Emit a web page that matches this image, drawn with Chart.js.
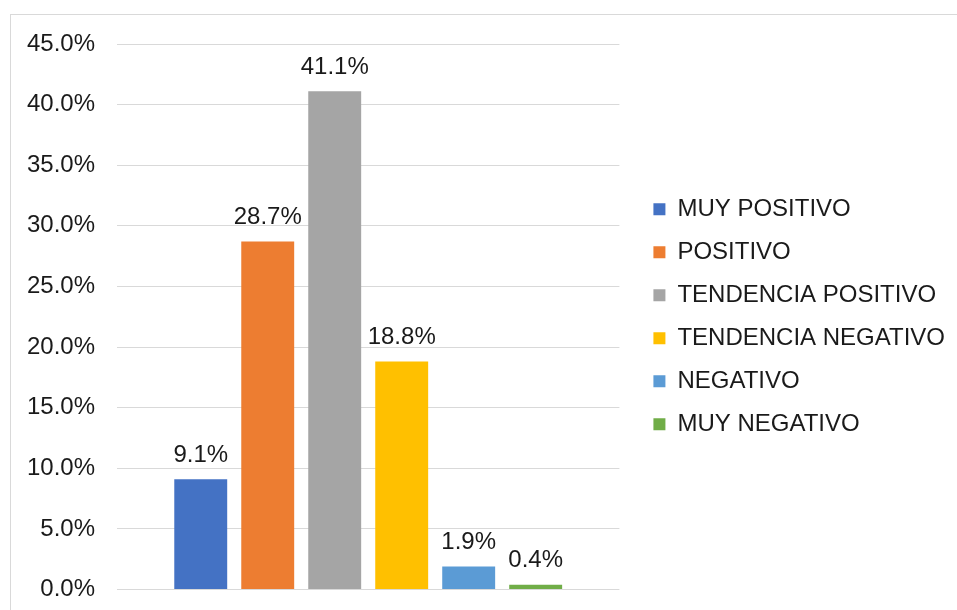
<!DOCTYPE html>
<html>
<head>
<meta charset="utf-8">
<script src="https://cdn.jsdelivr.net/npm/chart.js@4/dist/chart.umd.min.js"></script>
<style>
  html, body { margin: 0; padding: 0; background: #fff; }
  #wrap { width: 957px; height: 610px; }
</style>
</head>
<body>
<div id="wrap"><canvas id="chart"></canvas></div>
<script>
const categories = ['MUY POSITIVO', 'POSITIVO', 'TENDENCIA POSITIVO', 'TENDENCIA NEGATIVO', 'NEGATIVO', 'MUY NEGATIVO'];
const values = [9.1, 28.7, 41.1, 18.8, 1.9, 0.4];
const colors = ['#4472C4', '#ED7D31', '#A5A5A5', '#FFC000', '#5B9BD5', '#70AD47'];
const yTicks = [0, 5, 10, 15, 20, 25, 30, 35, 40, 45];

const FONT = '"Liberation Sans", Arial, sans-serif';

// marco gris del gráfico
const framePlugin = {
  id: 'frame',
  beforeDraw(chart) {
    const ctx = chart.ctx;
    ctx.save();
    ctx.strokeStyle = '#d9d9d9';
    ctx.lineWidth = 1;
    ctx.strokeRect(10.5, 14.5, 2000, 2000);
    ctx.restore();
  }
};

// etiquetas de datos encima de cada barra
const labelPlugin = {
  id: 'barLabels',
  afterDatasetsDraw(chart) {
    const ctx = chart.ctx;
    ctx.save();
    ctx.font = '24px ' + FONT;
    ctx.fillStyle = '#1a1a1a';
    ctx.textAlign = 'center';
    ctx.textBaseline = 'alphabetic';
    chart.data.datasets.forEach((ds, i) => {
      const bar = chart.getDatasetMeta(i).data[0];
      ctx.fillText(ds.data[0].toFixed(1) + '%', bar.x, bar.y - 17.5);
    });
    ctx.restore();
  }
};

new Chart(document.getElementById('chart'), {
  type: 'bar',
  data: {
    labels: [''],
    datasets: categories.map((c, i) => ({
      label: c,
      data: [values[i]],
      backgroundColor: colors[i],
      borderWidth: 0,
      categoryPercentage: 0.8,
      barPercentage: 0.79
    }))
  },
  options: {
    responsive: true,
    maintainAspectRatio: false,
    animation: false,
    layout: { padding: { top: 44, bottom: 20.5, left: 0, right: 2 } },
    scales: {
      x: { display: false },
      y: {
        min: 0, max: 45,
        afterBuildTicks: s => { s.ticks = yTicks.map(v => ({ value: v })); },
        afterFit: s => { s.width = 117; s.paddingTop = 0; s.paddingBottom = 0; },
        border: { display: false },
        grid: { color: '#d9d9d9', lineWidth: 1, drawTicks: false },
        ticks: {
          padding: 22,
          color: '#1a1a1a',
          font: { size: 24, family: FONT },
          callback: v => v.toFixed(1) + '%'
        }
      },
      y2: {
        type: 'linear',
        position: 'right',
        display: true,
        afterFit: s => { s.width = 15; },
        border: { display: false },
        grid: { display: false },
        ticks: { display: false }
      }
    },
    plugins: {
      tooltip: { enabled: false },
      legend: {
        position: 'right',
        maxWidth: 400,
        labels: {
          boxWidth: 12,
          boxHeight: 12,
          padding: 19,
          color: '#1a1a1a',
          font: { size: 24, family: FONT }
        }
      }
    }
  },
  plugins: [framePlugin, labelPlugin]
});
</script>
</body>
</html>
